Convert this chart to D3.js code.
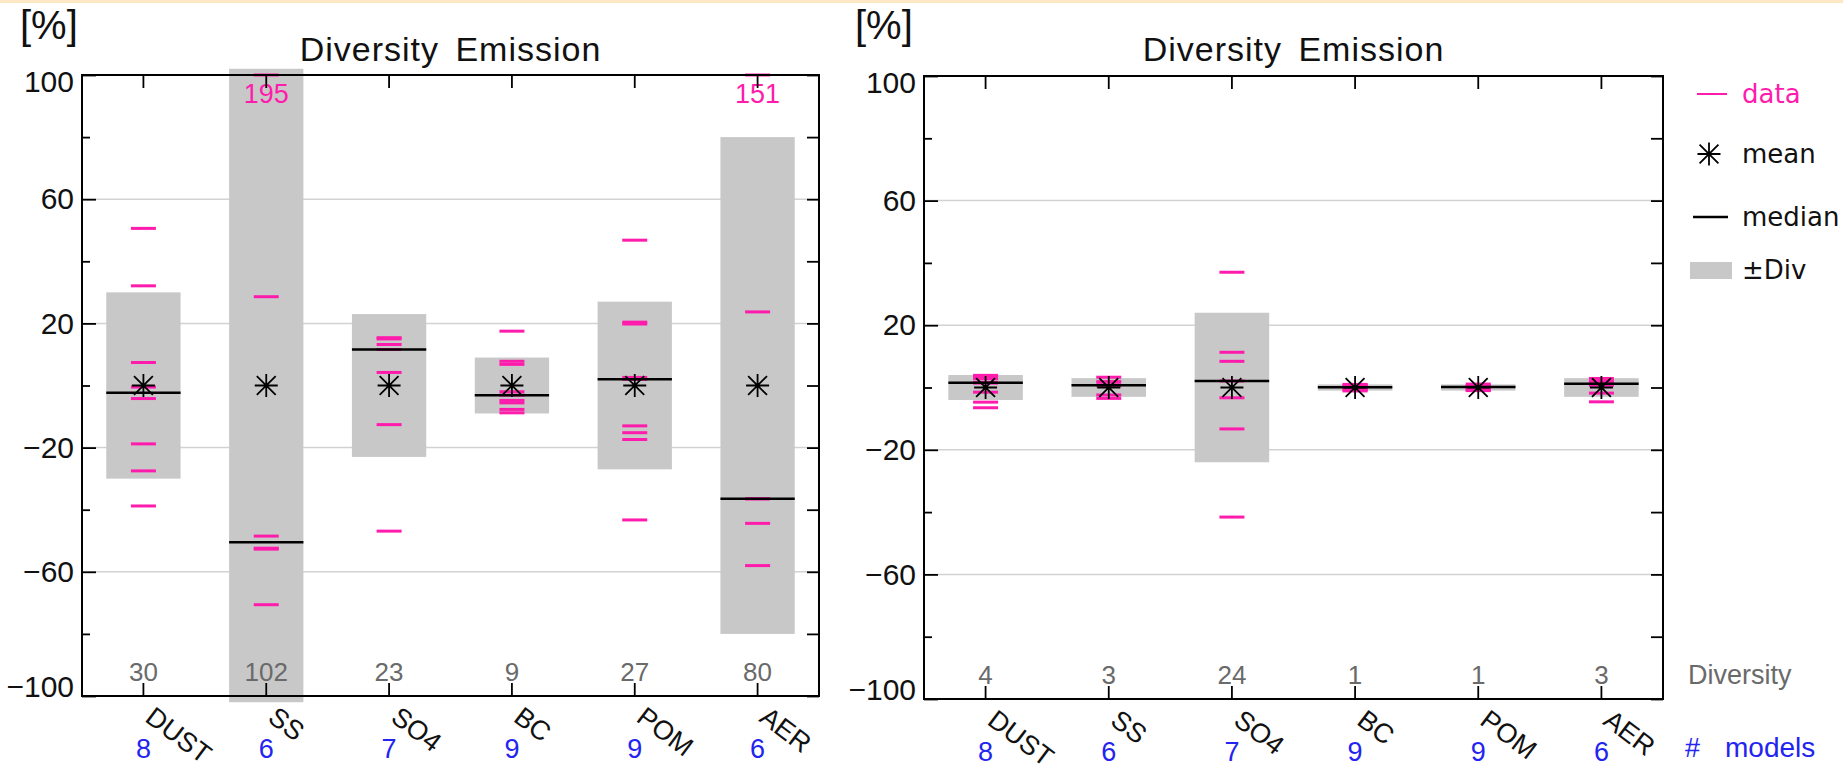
<!DOCTYPE html>
<html>
<head>
<meta charset="utf-8">
<script src="https://cdn.jsdelivr.net/npm/d3@7"></script>
<style>
  html, body { margin: 0; padding: 0; background: #ffffff; }
  svg { display: block; }
</style>
</head>
<body>
<svg id="chart" width="1843" height="769"></svg>
<script>
// ---- data ----
const categories = ["DUST", "SS", "SO4", "BC", "POM", "AER"];
const modelCounts = [8, 6, 7, 9, 9, 6];

const yTicksLabelled = [100, 60, 20, -20, -60, -100];
const yTicksMinor = [80, 40, 0, -40, -80];
const gridValues = [60, 20, -20, -60];

// left panel: diversity, means (normalised) and individual model deviations [%]
const leftDiversity = [30, 102, 23, 9, 27, 80];
const leftMeans = [0, 0, 0, 0, 0, 0];
const leftDust = [50.6, 32.1, 7.4, -0.5, -4.2, -18.8, -27.5, -38.8];
const leftSS = [195, 28.6, -48.5, -52.4, -52.7, -70.6];
const leftSO4 = [15.4, 15.0, 13.2, 11.6, 4.2, -12.6, -46.9];
const leftBC = [17.5, 7.8, 6.8, -2.0, -3.1, -4.8, -5.6, -7.7, -8.8];
const leftPOM = [46.8, 20.4, 19.8, 2.6, 2.0, -13.0, -15.2, -17.4, -43.3];
const leftAER = [151, 23.7, -36.5, -36.5, -44.4, -58.0];

// right panel
const rightDiversity = [4, 3, 24, 1, 1, 3];
const rightMeans = [0, 0, 0, 0, 0, 0];
const rightDust = [3.9, 3.5, 2.8, 1.6, 1.4, -1.5, -4.7, -6.5];
const rightSS = [3.3, 1.9, 0.9, 0.5, -2.4, -3.5];
const rightSO4 = [37.0, 11.3, 8.4, 2.1, -3.3, -13.3, -41.6];
const rightBC = [1.0, 0.8, 0.5, 0.2, 0.1, -0.2, -0.5, -0.8, -1.1];
const rightPOM = [1.1, 0.7, 0.4, 0.3, 0.2, -0.3, -0.6, -0.9, -1.0];
const rightAER = [2.9, 1.9, 1.7, 0.7, -1.8, -4.6];

const titleText = "Diversity Emission";
const unitText = "[%]";

// ---- styling ----
const MAGENTA = "#ff1cac";
const BOX_GRAY = "#c8c8c8";
const GRID_GRAY = "#d2d2d2";
const TEXT_GRAY = "#6a6a6a";
const BLUE = "#2424f0";
const FONT = "'Liberation Sans', Arial, sans-serif";
const LEGEND_FONT = "'DejaVu Sans', sans-serif";

const svg = d3.select("#chart");
svg.append("rect").attr("width", 1843).attr("height", 769).attr("fill", "#fff");
svg.append("rect").attr("width", 1843).attr("height", 3).attr("fill", "#fde7c4");

const panels = [
  { x0: 82, x1: 819, y0: 75, y1: 696, unitX: 20, titleY: 61,
    diversity: leftDiversity, means: leftMeans,
    data: [leftDust, leftSS, leftSO4, leftBC, leftPOM, leftAER] },
  { x0: 924, x1: 1663, y0: 76, y1: 699, unitX: 855, titleY: 61,
    diversity: rightDiversity, means: rightMeans,
    data: [rightDust, rightSS, rightSO4, rightBC, rightPOM, rightAER] }
];

function starPath(r) {
  const d = r * 0.82;
  return `M0,${-r}L0,${r}M${-r},0L${r},0M${-d},${-d}L${d},${d}M${-d},${d}L${d},${-d}`;
}

panels.forEach(P => {
  const g = svg.append("g");
  const x = d3.scaleBand().domain(categories).range([P.x0, P.x1]).padding(0);
  const y = d3.scaleLinear().domain([-100, 100]).range([P.y1, P.y0]);
  const bw = x.bandwidth();
  const boxW = bw * 0.605;
  const dashW = 25;
  const cx = c => x(c) + bw / 2;

  // grid
  g.append("g").selectAll("line").data(gridValues).join("line")
    .attr("x1", P.x0).attr("x2", P.x1)
    .attr("y1", d => y(d)).attr("y2", d => y(d))
    .attr("stroke", GRID_GRAY).attr("stroke-width", 1.5);

  // ±Div boxes
  g.append("g").selectAll("rect").data(categories).join("rect")
    .attr("x", c => cx(c) - boxW / 2)
    .attr("width", boxW)
    .attr("y", (c, i) => y(P.means[i] + P.diversity[i]))
    .attr("height", (c, i) => y(P.means[i] - P.diversity[i]) - y(P.means[i] + P.diversity[i]))
    .attr("fill", BOX_GRAY);

  // model values (clamped to axis range, out-of-range values written)
  categories.forEach((c, i) => {
    const vals = P.data[i];
    g.append("g").selectAll("line").data(vals).join("line")
      .attr("x1", cx(c) - dashW / 2).attr("x2", cx(c) + dashW / 2)
      .attr("y1", v => y(Math.max(-100, Math.min(100, v))))
      .attr("y2", v => y(Math.max(-100, Math.min(100, v))))
      .attr("stroke", MAGENTA).attr("stroke-width", 3);
    vals.filter(v => v > 100).forEach(v => {
      g.append("text").attr("x", cx(c)).attr("y", y(100) + 28)
        .attr("text-anchor", "middle").attr("font-family", FONT)
        .attr("font-size", 27).attr("fill", MAGENTA).text(v);
    });
  });

  // medians
  g.append("g").selectAll("line").data(categories).join("line")
    .attr("x1", c => cx(c) - boxW / 2).attr("x2", c => cx(c) + boxW / 2)
    .attr("y1", (c, i) => y(d3.median(P.data[i])))
    .attr("y2", (c, i) => y(d3.median(P.data[i])))
    .attr("stroke", "#000").attr("stroke-width", 2.5);

  // means
  g.append("g").selectAll("path").data(categories).join("path")
    .attr("transform", (c, i) => `translate(${cx(c)},${y(P.means[i])})`)
    .attr("d", starPath(11.5))
    .attr("fill", "none").attr("stroke", "#000").attr("stroke-width", 1.8);

  // frame
  g.append("rect").attr("x", P.x0).attr("y", P.y0)
    .attr("width", P.x1 - P.x0).attr("height", P.y1 - P.y0)
    .attr("fill", "none").attr("stroke", "#000").attr("stroke-width", 2);

  const styleTicks = a => {
    a.select(".domain").remove();
    a.selectAll(".tick line").attr("stroke", "#000").attr("stroke-width", 1.8);
  };

  // left axis, labelled ticks
  g.append("g").attr("transform", `translate(${P.x0},0)`)
    .call(d3.axisLeft(y).tickValues(yTicksLabelled).tickSize(-14).tickPadding(8).tickFormat(d3.format("d")))
    .call(styleTicks)
    .call(a => a.selectAll("text")
      .attr("font-family", FONT).attr("font-size", 30).attr("fill", "#111")
      .attr("dy", d => d === 100 ? "0.55em" : d === -100 ? "0.03em" : "0.32em"));
  // left axis, minor ticks
  g.append("g").attr("transform", `translate(${P.x0},0)`)
    .call(d3.axisLeft(y).tickValues(yTicksMinor).tickSize(-8).tickFormat(""))
    .call(styleTicks);
  // right axis
  g.append("g").attr("transform", `translate(${P.x1},0)`)
    .call(d3.axisLeft(y).tickValues(yTicksLabelled.concat(yTicksMinor)).tickSize(12).tickFormat(""))
    .call(styleTicks);
  // top and bottom category ticks
  g.append("g").attr("transform", `translate(0,${P.y0})`)
    .call(d3.axisBottom(x).tickSize(13).tickFormat(""))
    .call(styleTicks);
  g.append("g").attr("transform", `translate(0,${P.y1})`)
    .call(d3.axisTop(x).tickSize(13).tickFormat(""))
    .call(styleTicks);

  // diversity values along the bottom
  g.append("g").selectAll("text").data(categories).join("text")
    .attr("x", c => cx(c)).attr("y", P.y1 - 15)
    .attr("text-anchor", "middle").attr("font-family", FONT)
    .attr("font-size", 26).attr("fill", TEXT_GRAY)
    .text((c, i) => P.diversity[i]);

  // category names (rotated)
  g.append("g").selectAll("text").data(categories).join("text")
    .attr("transform", c => `translate(${cx(c) + 12},${P.y1 + 9}) rotate(37)`)
    .attr("dy", "0.72em")
    .attr("font-family", FONT).attr("font-size", 27).attr("fill", "#111")
    .text(c => c);

  // number of models
  g.append("g").selectAll("text").data(categories).join("text")
    .attr("x", c => cx(c)).attr("y", P.y1 + 62)
    .attr("text-anchor", "middle").attr("font-family", FONT)
    .attr("font-size", 27).attr("fill", BLUE)
    .text((c, i) => modelCounts[i]);

  // title and unit
  g.append("text").attr("x", (P.x0 + P.x1) / 2).attr("y", P.titleY)
    .attr("text-anchor", "middle").attr("font-family", FONT)
    .attr("font-size", 34).attr("letter-spacing", 1).attr("word-spacing", 6)
    .attr("fill", "#111").text(titleText);
  g.append("text").attr("x", P.unitX).attr("y", 39)
    .attr("font-family", FONT).attr("font-size", 40).attr("fill", "#111")
    .text(unitText);
});

// ---- legend ----
const lg = svg.append("g");
const legendItems = [
  { key: "data", y: 94, color: MAGENTA },
  { key: "mean", y: 154, color: "#111" },
  { key: "median", y: 217, color: "#111" },
  { key: "\u00B1Div", y: 270, color: "#111" }
];
lg.append("line").attr("x1", 1697).attr("x2", 1727).attr("y1", 94).attr("y2", 94)
  .attr("stroke", MAGENTA).attr("stroke-width", 2);
lg.append("path").attr("transform", "translate(1709,154)").attr("d", starPath(11.5))
  .attr("fill", "none").attr("stroke", "#000").attr("stroke-width", 1.8);
lg.append("line").attr("x1", 1693).attr("x2", 1728).attr("y1", 217).attr("y2", 217)
  .attr("stroke", "#000").attr("stroke-width", 2.5);
lg.append("rect").attr("x", 1690).attr("y", 262).attr("width", 42).attr("height", 17)
  .attr("fill", BOX_GRAY);
lg.selectAll("text.leg").data(legendItems).join("text").attr("class", "leg")
  .attr("x", 1742).attr("y", d => d.y).attr("dy", "0.35em")
  .attr("font-family", LEGEND_FONT).attr("font-size", 26)
  .attr("fill", d => d.color).text(d => d.key);

svg.append("text").attr("x", 1688).attr("y", 684)
  .attr("font-family", FONT).attr("font-size", 27).attr("fill", TEXT_GRAY)
  .text("Diversity");
svg.append("text").attr("x", 1685).attr("y", 757)
  .attr("font-family", FONT).attr("font-size", 27).attr("fill", BLUE).text("#");
svg.append("text").attr("x", 1725).attr("y", 757)
  .attr("font-family", FONT).attr("font-size", 28).attr("fill", BLUE).text("models");
</script>
</body>
</html>
